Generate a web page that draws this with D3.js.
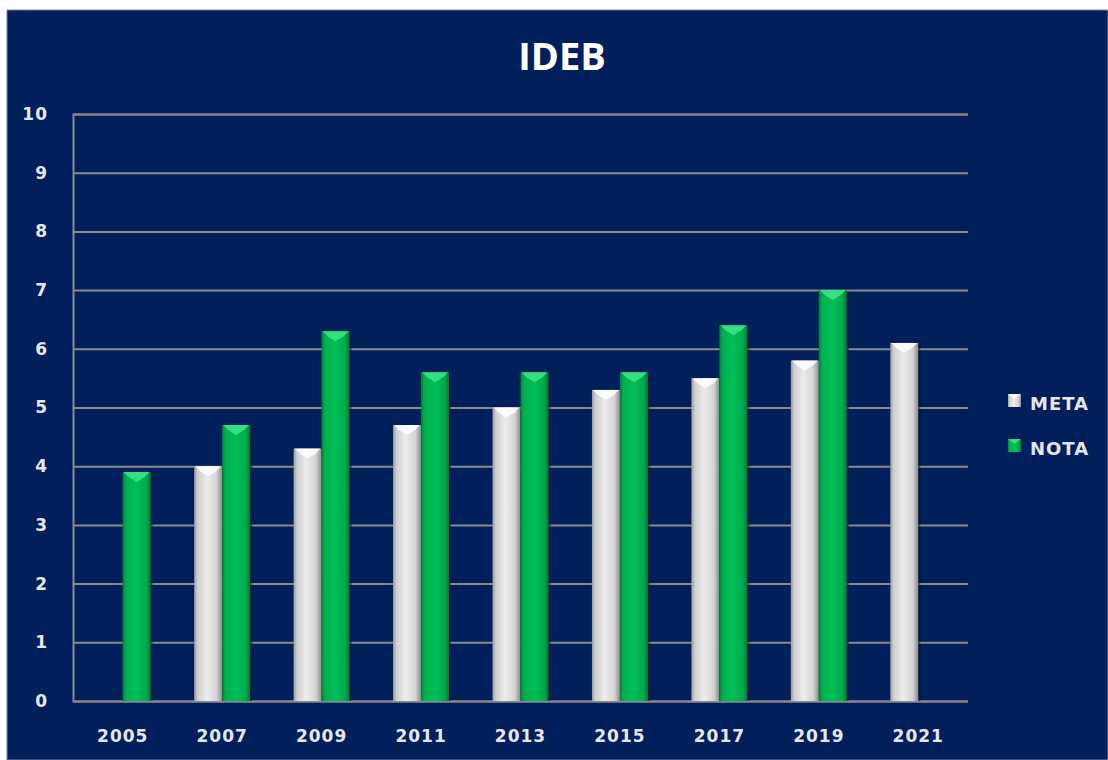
<!DOCTYPE html>
<html><head><meta charset="utf-8">
<script src="https://cdn.jsdelivr.net/npm/d3@7"></script>
<style>body{margin:0;background:#fff}svg{display:block}</style>
</head><body>
<script>
const years = ["2005","2007","2009","2011","2013","2015","2017","2019","2021"];
const meta = [null,4.0,4.3,4.7,5.0,5.3,5.5,5.8,6.1];
const nota = [3.9,4.7,6.3,5.6,5.6,5.6,6.4,7.0,null];
const seriesNames = ["META","NOTA"];
const yTicks = [0,1,2,3,4,5,6,7,8,9,10];

const W=1108,H=760;
const svg=d3.select("body").append("svg").attr("width",W).attr("height",H);
const defs=svg.append("defs");
function grad(id,stops){
  const g=defs.append("linearGradient").attr("id",id).attr("x1","0").attr("x2","1").attr("y1","0").attr("y2","0");
  stops.forEach(s=>g.append("stop").attr("offset",s[0]).attr("stop-color",s[1]));
}
grad("gMeta",[[0,"#9a9a9a"],[0.12,"#cfcfcf"],[0.45,"#ececec"],[0.8,"#d4d4d4"],[1,"#8c8c8c"]]);
grad("gNota",[[0,"#00813a"],[0.12,"#00b04f"],[0.5,"#00bf58"],[0.85,"#00a84b"],[1,"#007a36"]]);
const topCol={META:"#ffffff",NOTA:"#3ee688"};
const fillId={META:"url(#gMeta)",NOTA:"url(#gNota)"};

svg.append("rect").attr("x",7).attr("y",10).attr("width",W-7).attr("height",H-10).attr("fill","#001f5b").attr("stroke","#7a86a8").attr("stroke-width",1);

const m={l:73,r:968,t:114,b:701};
const x0=d3.scaleBand().domain(years).range([m.l,m.r]).paddingInner(0).paddingOuter(0);
const x1=d3.scaleBand().domain(seriesNames).range([x0.bandwidth()/2-28,x0.bandwidth()/2+28]);
const y=d3.scaleLinear().domain([0,10]).range([m.b,m.t]);

const labelFont = sel => sel.attr("fill","#e6e6ee").attr("font-family","DejaVu Sans").attr("font-weight","bold").attr("font-size",17).attr("letter-spacing",1);

// gridlines
const yAxis=d3.axisLeft(y).tickValues(yTicks).tickSize(-(m.r-m.l)).tickPadding(25).tickFormat(d3.format("d"));
const ga=svg.append("g").attr("transform",`translate(${m.l},0)`).call(yAxis);
ga.select(".domain").attr("stroke","#8a8a8a").attr("stroke-width",2);
ga.selectAll(".tick line").attr("stroke","#8a8a8a").attr("stroke-width",2);
ga.selectAll(".tick text").call(labelFont);

const xAxis=d3.axisBottom(x0).tickSize(0).tickPadding(0);
const gx=svg.append("g").attr("transform",`translate(0,${m.b})`).call(xAxis);
gx.select(".domain").remove();
gx.selectAll(".tick text").call(labelFont).attr("y",41).attr("dy",0);

const data=[];
years.forEach((yr,i)=>{
  [["META",meta[i]],["NOTA",nota[i]]].forEach(([s,v])=>{ if(v!=null) data.push({yr,s,v}); });
});
const bars=svg.append("g");
data.forEach(d=>{
  const bx=x0(d.yr)+x1(d.s), bw=x1.bandwidth(), by=y(d.v), bh=y(0)-y(d.v);
  bars.append("rect").attr("x",bx+2).attr("y",by+2).attr("width",bw).attr("height",bh-2).attr("fill","#000a30").attr("opacity",0.5);
  bars.append("rect").attr("x",bx).attr("y",by).attr("width",bw).attr("height",bh).attr("fill",fillId[d.s]);
  bars.append("path").attr("d",`M${bx+1},${by} L${bx+bw-1},${by} L${bx+bw-6},${by+5} L${bx+bw/2},${by+10} L${bx+6},${by+5} Z`).attr("fill",topCol[d.s]).attr("opacity",0.85);
});

// title
svg.append("text").attr("x",562).attr("y",70).attr("text-anchor","middle").attr("fill","#ffffff").attr("font-family","Open Sans").attr("font-weight","bold").attr("font-size",38).text("IDEB");

// legend
const lg=svg.append("g");
seriesNames.forEach((s,i)=>{
  const ly=394+i*45;
  lg.append("rect").attr("x",1008).attr("y",ly).attr("width",13).attr("height",13).attr("fill",fillId[s]);
  lg.append("path").attr("d",`M1008,${ly} L1021,${ly} L1014.5,${ly+5} Z`).attr("fill",topCol[s]).attr("opacity",0.8);
  lg.append("text").attr("x",1030).attr("y",ly+16).attr("fill","#e6e6ee").attr("font-family","DejaVu Sans").attr("font-weight","bold").attr("font-size",18).attr("letter-spacing",1).text(s);
});
</script>
</body></html>
